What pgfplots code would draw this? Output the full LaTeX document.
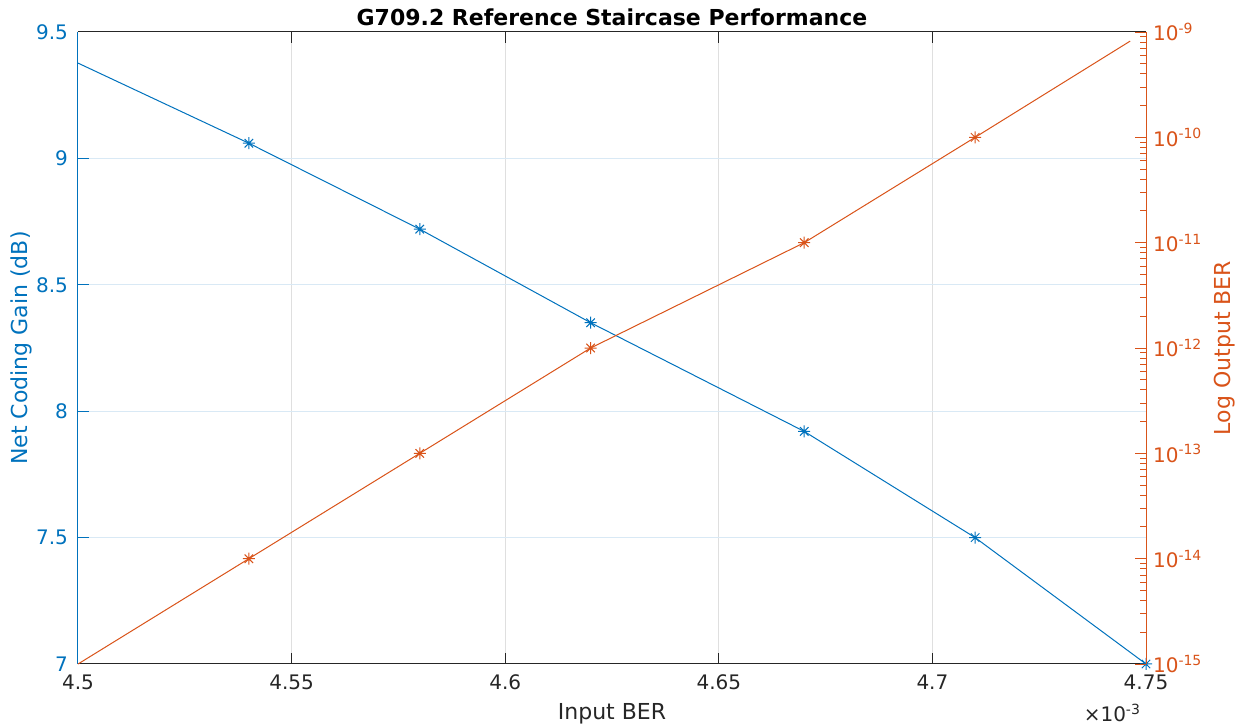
\documentclass[border=0pt]{standalone}
\usepackage{pgfplots}
\pgfplotsset{compat=1.18}
\usepackage{fontspec}
\setmainfont{DejaVu Sans}
\definecolor{mblue}{RGB}{0,114,189}
\definecolor{morange}{RGB}{217,83,25}
\definecolor{axgray}{RGB}{38,38,38}
\definecolor{gridgray}{RGB}{223,223,223}
\definecolor{gridblue}{RGB}{217,233,245}

\pgfdeclareplotmark{mstar}{%
 \pgfpathmoveto{\pgfqpoint{-\pgfplotmarksize}{0pt}}\pgfpathlineto{\pgfqpoint{\pgfplotmarksize}{0pt}}%
 \pgfpathmoveto{\pgfqpoint{0pt}{-\pgfplotmarksize}}\pgfpathlineto{\pgfqpoint{0pt}{\pgfplotmarksize}}%
 \pgfpathmoveto{\pgfqpoint{-0.7071\pgfplotmarksize}{-0.7071\pgfplotmarksize}}\pgfpathlineto{\pgfqpoint{0.7071\pgfplotmarksize}{0.7071\pgfplotmarksize}}%
 \pgfpathmoveto{\pgfqpoint{-0.7071\pgfplotmarksize}{0.7071\pgfplotmarksize}}\pgfpathlineto{\pgfqpoint{0.7071\pgfplotmarksize}{-0.7071\pgfplotmarksize}}%
 \pgfusepathqstroke}

\begin{document}
\begin{tikzpicture}
\useasboundingbox (-39pt,-31.5pt) rectangle (581.5pt,332pt);
\begin{axis}[
 at={(0,0)}, anchor=south west, scale only axis, width=534pt, height=316pt,
 xmin=4.5, xmax=4.75, ymin=7, ymax=9.5,
 axis line style={draw=none},
 xtick={4.5,4.55,4.6,4.65,4.7,4.75}, xticklabels={4.5,4.55,4.6,4.65,4.7,4.75},
 ytick={7,7.5,8,8.5,9,9.5}, yticklabels={7,7.5,8,8.5,9,9.5},
 xtick pos=both, xticklabel pos=bottom, ytick pos=left, yticklabel pos=left,
 tick align=inside, major tick length=5.3pt,
 xtick style={draw=axgray, line width=0.5pt},
 ytick style={draw=mblue, line width=0.5pt},
 xmajorgrids, ymajorgrids,
 x grid style={gridgray, line width=0.5pt},
 y grid style={gridblue, line width=0.5pt},
 ticklabel style={font=\fontsize{10}{12}\selectfont},
 xticklabel style={text=axgray, yshift=-2pt},
 yticklabel style={text=mblue, xshift=-1.5pt},
 clip=false,
]
\addplot[mblue, line width=0.5pt, mark=mstar, mark size=3pt, mark indices={2,3,4,5,6,7}]
 coordinates {(4.5,9.377)(4.54,9.06)(4.58,8.72)(4.62,8.35)(4.67,7.92)(4.71,7.5)(4.75,7.0)};
\draw[axgray, line width=0.5pt] (rel axis cs:0,0) -- (rel axis cs:1,0);
\draw[axgray, line width=0.5pt] (rel axis cs:0,1) -- (rel axis cs:1,1);
\draw[mblue, line width=0.5pt] (rel axis cs:0,0) -- (rel axis cs:0,1);
\node[font=\bfseries\fontsize{11}{13}\selectfont, anchor=base, yshift=3pt] at (rel axis cs:0.5,1) {G709.2 Reference Staircase Performance};
\node[font=\fontsize{11}{13}\selectfont, text=axgray, anchor=base, yshift=-27.5pt] at (rel axis cs:0.5,0) {Input BER};
\node[font=\fontsize{10}{12}\selectfont, text=axgray, anchor=base east, yshift=-29pt, xshift=1pt] at (rel axis cs:1,0) {×10\textsuperscript{-3}};
\node[font=\fontsize{11}{13}\selectfont, text=mblue, xshift=-25pt, rotate=90, anchor=base] at (rel axis cs:0,0.5) {Net Coding Gain (dB)};
\end{axis}
\begin{axis}[
 at={(0,0)}, anchor=south west, scale only axis, width=534pt, height=316pt,
 xmin=4.5, xmax=4.75, ymode=log, ymin=1e-15, ymax=1e-9,
 axis line style={draw=none},
 xtick=\empty,
 ytick pos=right, yticklabel pos=right,
 tick align=inside, major tick length=5.3pt, minor tick length=2.8pt,
 ytick={1e-15,1e-14,1e-13,1e-12,1e-11,1e-10,1e-9},
 yticklabels={10\textsuperscript{-15},10\textsuperscript{-14},10\textsuperscript{-13},10\textsuperscript{-12},10\textsuperscript{-11},10\textsuperscript{-10},10\textsuperscript{-9}},
 minor ytick={2e-15,3e-15,4e-15,5e-15,6e-15,7e-15,8e-15,9e-15,
  2e-14,3e-14,4e-14,5e-14,6e-14,7e-14,8e-14,9e-14,
  2e-13,3e-13,4e-13,5e-13,6e-13,7e-13,8e-13,9e-13,
  2e-12,3e-12,4e-12,5e-12,6e-12,7e-12,8e-12,9e-12,
  2e-11,3e-11,4e-11,5e-11,6e-11,7e-11,8e-11,9e-11,
  2e-10,3e-10,4e-10,5e-10,6e-10,7e-10,8e-10,9e-10},
 ytick style={draw=morange, line width=0.5pt},
 yticklabel style={text=morange, font=\fontsize{10}{12}\selectfont},
 clip=false,
]
\addplot[morange, line width=0.5pt, mark=mstar, mark size=3pt, mark indices={2,3,4,5,6}]
 coordinates {(4.5,1e-15)(4.54,1e-14)(4.58,1e-13)(4.62,1e-12)(4.67,1e-11)(4.71,1e-10)(4.7463,8.2e-10)};
\draw[morange, line width=0.5pt] (rel axis cs:1,0) -- (rel axis cs:1,1);
\node[font=\fontsize{11}{13}\selectfont, text=morange, xshift=42pt, rotate=90, anchor=base] at (rel axis cs:1,0.5) {Log Output BER};
\end{axis}
\end{tikzpicture}
\end{document}
